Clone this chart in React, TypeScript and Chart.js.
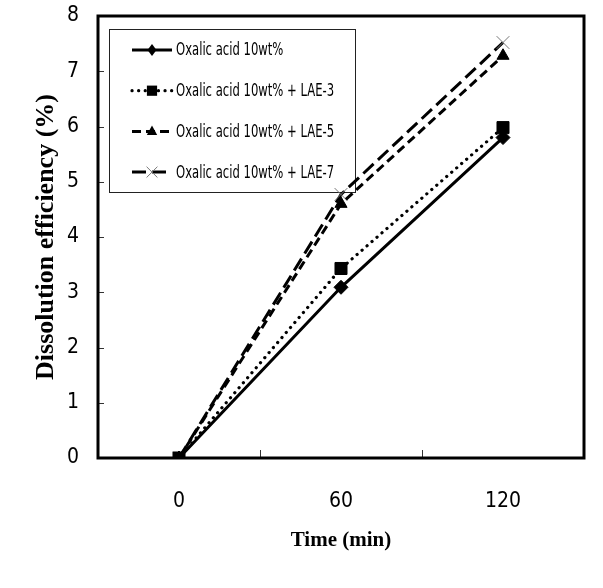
import { useEffect, useRef } from 'react';
import { Chart, registerables } from 'chart.js';

Chart.register(...registerables);

const timeLabels = ['0', '60', '120'];
const seriesNames = [
  'Oxalic acid 10wt%',
  'Oxalic acid 10wt% + LAE-3',
  'Oxalic acid 10wt% + LAE-5',
  'Oxalic acid 10wt% + LAE-7',
];
const oxalic = [0, 3.09, 5.8];
const lae3 = [0, 3.43, 5.98];
const lae5 = [0, 4.6, 7.28];
const lae7 = [0, 4.77, 7.52];
const yMin = 0;
const yMax = 8;
const yStep = 1;

const TICK_FONT = "'Liberation Sans Narrow', 'DejaVu Sans Condensed', 'Liberation Sans', sans-serif";
const TITLE_FONT = "'Liberation Serif', 'Times New Roman', serif";

function drawMarker(ctx: CanvasRenderingContext2D, style: string, x: number, y: number, r: number, color: string, lw: number) {
  ctx.save();
  ctx.setLineDash([]);
  ctx.fillStyle = color;
  ctx.strokeStyle = color;
  ctx.lineWidth = lw;
  ctx.beginPath();
  if (style === 'rectRot') {
    ctx.moveTo(x, y - r);
    ctx.lineTo(x + r * 0.75, y);
    ctx.lineTo(x, y + r);
    ctx.lineTo(x - r * 0.75, y);
    ctx.closePath();
    ctx.fill();
  } else if (style === 'rect') {
    const s = r * Math.SQRT1_2;
    ctx.rect(x - s, y - s, 2 * s, 2 * s);
    ctx.fill();
  } else if (style === 'triangle') {
    ctx.moveTo(x, y - r);
    ctx.lineTo(x + r * 0.87, y + r * 0.6);
    ctx.lineTo(x - r * 0.87, y + r * 0.6);
    ctx.closePath();
    ctx.fill();
  } else if (style === 'crossRot') {
    const s = r * Math.SQRT1_2;
    ctx.moveTo(x - s, y - s);
    ctx.lineTo(x + s, y + s);
    ctx.moveTo(x + s, y - s);
    ctx.lineTo(x - s, y + s);
    ctx.stroke();
  }
  ctx.restore();
}

const framePlugin = {
  id: 'framePlugin',
  beforeDatasetsDraw(chart: any) {
    const { ctx, chartArea: a, scales } = chart;
    const xs = scales.x;
    const ys = scales.y;
    ctx.save();
    // inward ticks on y
    ctx.strokeStyle = '#333';
    ctx.lineWidth = 1;
    ctx.setLineDash([]);
    for (let v = yMin + yStep; v < yMax; v += yStep) {
      const py = Math.round(ys.getPixelForValue(v)) + 0.5;
      ctx.beginPath();
      ctx.moveTo(a.left, py);
      ctx.lineTo(a.left + 6, py);
      ctx.stroke();
    }
    // inward ticks on x at category boundaries
    for (let i = 0; i < timeLabels.length - 1; i++) {
      const px = Math.round((xs.getPixelForValue(i) + xs.getPixelForValue(i + 1)) / 2) + 0.5;
      ctx.beginPath();
      ctx.moveTo(px, a.bottom);
      ctx.lineTo(px, a.bottom - 8);
      ctx.stroke();
    }
    // frame
    ctx.strokeStyle = '#000';
    ctx.lineWidth = 3;
    ctx.strokeRect(a.left, a.top, a.right - a.left, a.bottom - a.top);

    // legend box
    const lx = a.left + 11;
    const ly = a.top + 13;
    const lw = 246;
    const lh = 163;
    ctx.fillStyle = '#fff';
    ctx.fillRect(lx, ly, lw, lh);
    ctx.strokeStyle = '#222';
    ctx.lineWidth = 1;
    ctx.strokeRect(lx + 0.5, ly + 0.5, lw, lh);
    chart.data.datasets.forEach((ds: any, i: number) => {
      const cy = ly + 21 + i * 40.7;
      ctx.save();
      ctx.strokeStyle = '#000';
      ctx.lineWidth = ds.borderWidth;
      ctx.lineCap = ds.borderCapStyle || 'butt';
      ctx.setLineDash(ds.borderDash || []);
      ctx.beginPath();
      ctx.moveTo(lx + 23, cy);
      ctx.lineTo(lx + 63, cy);
      ctx.stroke();
      ctx.restore();
      drawMarker(ctx, ds.pointStyle, lx + 43, cy, ds.pointRadius * 0.85, ds.pointBorderColor, ds.pointBorderWidth);
      ctx.fillStyle = '#000';
      ctx.font = `17px ${TICK_FONT}`;
      ctx.textBaseline = 'middle';
      ctx.textAlign = 'left';
      const w = ctx.measureText(ds.label).width;
      ctx.fillText(ds.label, lx + 67, cy + 1, w * 0.76);
    });
    ctx.restore();
  },
};

export default function App() {
  const ref = useRef<HTMLCanvasElement>(null);
  useEffect(() => {
    const chart = new Chart(ref.current!, {
      type: 'line',
      data: {
        labels: timeLabels,
        datasets: [
          {
            label: seriesNames[0],
            data: oxalic,
            borderColor: '#000',
            backgroundColor: '#000',
            borderWidth: 3,
            pointStyle: 'rectRot',
            pointRadius: 7,
            pointBackgroundColor: '#000',
            pointBorderColor: '#000',
            pointBorderWidth: 1,
          },
          {
            label: seriesNames[1],
            data: lae3,
            borderColor: '#000',
            backgroundColor: '#000',
            borderWidth: 3.2,
            borderDash: [0.1, 6.5],
            borderCapStyle: 'round',
            pointStyle: 'rect',
            pointRadius: 8.5,
            pointBackgroundColor: '#000',
            pointBorderColor: '#000',
            pointBorderWidth: 1,
          },
          {
            label: seriesNames[2],
            data: lae5,
            borderColor: '#000',
            backgroundColor: '#000',
            borderWidth: 3,
            borderDash: [9, 5],
            pointStyle: 'triangle',
            pointRadius: 7,
            pointBackgroundColor: '#000',
            pointBorderColor: '#000',
            pointBorderWidth: 1,
          },
          {
            label: seriesNames[3],
            data: lae7,
            borderColor: '#000',
            backgroundColor: '#000',
            borderWidth: 3,
            borderDash: [14, 6],
            pointStyle: 'crossRot',
            pointRadius: 9,
            pointBackgroundColor: '#777',
            pointBorderColor: '#777',
            pointBorderWidth: 1,
          },
        ] as any,
      },
      options: {
        responsive: false,
        animation: false,
        layout: { padding: { top: 16, right: 19, left: 0, bottom: 0 } },
        plugins: { legend: { display: false }, tooltip: { enabled: false } },
        elements: { line: { tension: 0 } },
        scales: {
          x: {
            type: 'category',
            offset: true,
            grid: { display: false, drawTicks: false, offset: true },
            border: { display: false },
            ticks: {
              color: '#000',
              padding: 31,
              font: { family: TICK_FONT, size: 21 },
              maxRotation: 0,
            },
            title: {
              display: true,
              text: 'Time (min)',
              color: '#000',
              font: { family: TITLE_FONT, size: 21, weight: 'bold' },
              padding: { top: 0, bottom: 35 },
            },
            afterFit(scale: any) {
              scale.height = 130;
              scale.paddingLeft = 0;
              scale.paddingRight = 0;
            },
          },
          y: {
            min: yMin,
            max: yMax,
            grid: { display: false, drawTicks: false },
            border: { display: false },
            ticks: {
              stepSize: yStep,
              color: '#000',
              padding: 19,
              font: { family: TICK_FONT, size: 21 },
            },
            title: {
              display: true,
              text: 'Dissolution efficiency (%)',
              color: '#000',
              font: { family: TITLE_FONT, size: 26, weight: 'bold' },
              padding: { top: 31, bottom: 0 },
            },
            afterFit(scale: any) {
              scale.width = 98;
              scale.paddingTop = 0;
              scale.paddingBottom = 0;
            },
          },
        },
      } as any,
      plugins: [framePlugin],
    });
    return () => chart.destroy();
  }, []);
  return (
    <div style={{ position: 'absolute', left: 0, top: 0, width: 603, height: 588, background: '#fff' }}>
      <canvas ref={ref} width={603} height={588} />
    </div>
  );
}
